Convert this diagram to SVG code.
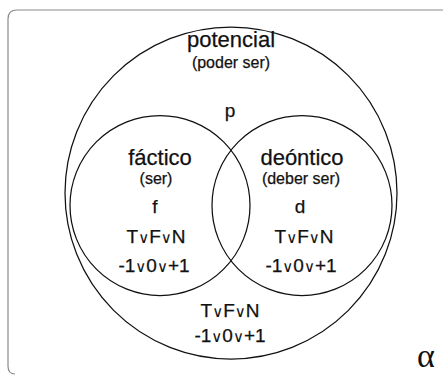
<svg xmlns="http://www.w3.org/2000/svg" width="446" height="376" viewBox="0 0 446 376">
<style>
.c{fill:none;stroke:#111;stroke-width:1.25}
.t{font-family:"Liberation Sans",Arial,sans-serif;fill:#111;stroke:#111;stroke-width:0.25;text-anchor:middle}
.h{font-size:22px}
.s{font-size:16px}
.m{font-size:19px}
.o{font-family:"DejaVu Sans",sans-serif;font-size:15px;stroke-width:0.1}
</style>
<rect width="446" height="376" fill="#fff"/>
<g id="frame">
<path d="M443,10 H17 Q8,10 8,19 V366 Q8,374 15,374" fill="none" stroke="#8a8a8a" stroke-width="1.2"/>
</g>
<g id="potencial">
<circle class="c" cx="231" cy="193" r="166"/>
<text class="t h" x="231" y="47">potencial</text>
<text class="t s" x="231" y="68">(poder ser)</text>
<text class="t m" x="230" y="117">p</text>
<text class="t m" x="230" y="317">T<tspan class="o">∨</tspan>F<tspan class="o">∨</tspan>N</text>
<text class="t m" x="230" y="342">-1<tspan class="o">∨</tspan>0<tspan class="o">∨</tspan>+1</text>
</g>
<g id="factico">
<circle class="c" cx="160" cy="205.5" r="90"/>
<text class="t h" x="160" y="165">fáctico</text>
<text class="t s" x="156" y="184">(ser)</text>
<text class="t m" x="155" y="213">f</text>
<text class="t m" x="156" y="243">T<tspan class="o">∨</tspan>F<tspan class="o">∨</tspan>N</text>
<text class="t m" x="154" y="272">-1<tspan class="o">∨</tspan>0<tspan class="o">∨</tspan>+1</text>
</g>
<g id="deontico">
<circle class="c" cx="302" cy="205.5" r="90"/>
<text class="t h" x="302" y="165">deóntico</text>
<text class="t s" x="301" y="184">(deber ser)</text>
<text class="t m" x="300" y="213">d</text>
<text class="t m" x="304" y="243">T<tspan class="o">∨</tspan>F<tspan class="o">∨</tspan>N</text>
<text class="t m" x="301" y="272">-1<tspan class="o">∨</tspan>0<tspan class="o">∨</tspan>+1</text>
</g>
<g id="alpha">
<text x="417" y="367" font-family="'Liberation Serif',serif" font-size="34" fill="#111">α</text>
</g>
<g id="connectors"/>
</svg>
